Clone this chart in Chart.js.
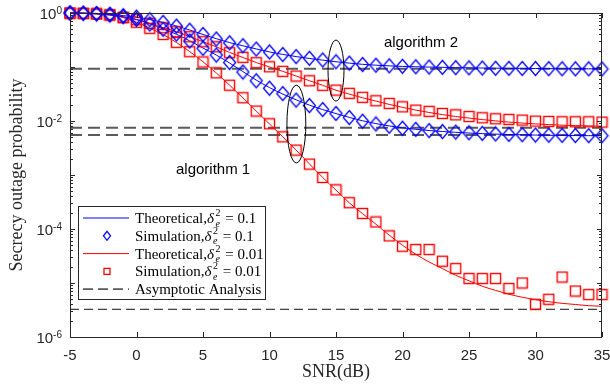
<!DOCTYPE html>
<html lang="en">
<head>
<meta charset="UTF-8" />
<title>Secrecy outage probability vs SNR</title>
<script src="https://cdn.jsdelivr.net/npm/chart.js"></script>
<style>
  html, body { margin: 0; padding: 0; background: #fff; }
  #wrap { width: 610px; height: 385px; position: relative; }
</style>
</head>
<body>
<div id="wrap"><canvas id="soChart"></canvas></div>
<script>
// SNR grid (dB), one point per dB
const snr = [-5, -4, -3, -2, -1, 0, 1, 2, 3, 4, 5, 6, 7, 8, 9, 10, 11, 12, 13, 14, 15,
  16, 17, 18, 19, 20, 21, 22, 23, 24, 25, 26, 27, 28, 29, 30, 31, 32, 33, 34, 35];

// algorithm 2, delta_e^2 = 0.1 (blue, top)
const a2BlueTheory = [1.0, 0.995, 0.985, 0.95, 0.895, 0.84, 0.755, 0.67, 0.575, 0.485, 0.40,
  0.335, 0.283, 0.247, 0.216, 0.19, 0.171, 0.156, 0.144, 0.134, 0.125, 0.118, 0.112, 0.108,
  0.105, 0.1025, 0.101, 0.0998, 0.0986, 0.0975, 0.0966, 0.0958, 0.0951, 0.0946, 0.0941,
  0.0937, 0.0933, 0.093, 0.0927, 0.0925, 0.0923];
const a2BlueSim = [1.0, 0.99, 0.98, 0.95, 0.89, 0.84, 0.75, 0.67, 0.57, 0.48, 0.40, 0.33,
  0.28, 0.248, 0.215, 0.19, 0.17, 0.156, 0.145, 0.135, 0.125, 0.118, 0.111, 0.108, 0.105,
  0.103, 0.101, 0.0998, 0.0985, 0.0973, 0.0964, 0.0957, 0.0948, 0.0944, 0.094, 0.0936,
  0.0932, 0.0928, 0.0924, 0.0924, 0.092];

// algorithm 1, delta_e^2 = 0.1 (blue, lower)
const a1BlueTheory = [1.0, 0.99, 0.96, 0.92, 0.855, 0.76, 0.63, 0.505, 0.405, 0.305, 0.2245,
  0.1665, 0.1184, 0.0823, 0.0573, 0.0416, 0.0315, 0.0247, 0.0197, 0.01627, 0.01371, 0.01166,
  0.01009, 0.00895, 0.00811, 0.00748, 0.00702, 0.00667, 0.00639, 0.00617, 0.00599, 0.00584,
  0.00572, 0.00562, 0.00555, 0.00549, 0.00544, 0.00541, 0.00537, 0.00535, 0.00533];
const a1BlueSim = [1.0, 0.987, 0.958, 0.918, 0.854, 0.758, 0.625, 0.499, 0.408, 0.303, 0.222,
  0.1666, 0.121, 0.0806, 0.0555, 0.0405, 0.0322, 0.0244, 0.0193, 0.0163, 0.0138, 0.0116,
  0.0099, 0.0088, 0.008, 0.00735, 0.007, 0.00664, 0.00636, 0.00623, 0.00605, 0.00589,
  0.00575, 0.00565, 0.00557, 0.0055, 0.00546, 0.00543, 0.00538, 0.00536, 0.00534];

// algorithm 2, delta_e^2 = 0.01 (red, upper)
const a2RedTheory = [1.0, 0.99, 0.97, 0.93, 0.835, 0.75, 0.645, 0.535, 0.45, 0.365, 0.294,
  0.236, 0.186, 0.15, 0.121, 0.1, 0.083, 0.068, 0.0558, 0.0458, 0.0372, 0.0315, 0.0269,
  0.0234, 0.0203, 0.0179, 0.0159, 0.0144, 0.01315, 0.0121, 0.01132, 0.01062, 0.01005,
  0.00955, 0.00915, 0.00884, 0.00858, 0.00836, 0.00822, 0.00811, 0.00801];
const a2RedSim = [0.995, 0.985, 0.965, 0.93, 0.83, 0.751, 0.644, 0.534, 0.45, 0.364, 0.294,
  0.237, 0.184, 0.151, 0.12, 0.101, 0.083, 0.068, 0.0556, 0.0457, 0.0374, 0.0325, 0.0274,
  0.0237, 0.0212, 0.0183, 0.0159, 0.0151, 0.0138, 0.013, 0.0121, 0.01146, 0.011, 0.0107,
  0.0104, 0.00996, 0.00984, 0.00967, 0.00967, 0.00967, 0.00955];

// algorithm 1, delta_e^2 = 0.01 (red, steep)
const a1RedTheory = [1.0, 0.99, 0.965, 0.92, 0.825, 0.675, 0.522, 0.398, 0.285, 0.193, 0.125,
  0.0775, 0.046, 0.0268, 0.0153, 0.0088, 0.0051, 0.0029, 0.00161, 0.0009, 0.000525, 0.000305,
  0.000192, 0.000123, 7.7e-5, 5.0e-5, 3.41e-5, 2.45e-5, 1.85e-5, 1.39e-5, 1.1e-5, 8.7e-6,
  7.3e-6, 6.2e-6, 5.45e-6, 4.9e-6, 4.5e-6, 4.2e-6, 4.0e-6, 3.8e-6, 3.7e-6];
const a1RedSim = [0.995, 0.985, 0.96, 0.915, 0.82, 0.673, 0.52, 0.40, 0.286, 0.192, 0.124,
  0.078, 0.046, 0.0269, 0.0153, 0.00887, 0.00509, 0.00289, 0.00159, 0.000901, 0.000531,
  0.000307, 0.000194, 0.000135, 7.45e-5, 4.8e-5, 4.17e-5, 4.17e-5, 2.53e-5, 1.85e-5,
  1.21e-5, 1.21e-5, 1.21e-5, 7.9e-6, 1.0e-5, 4.04e-6, 5.0e-6, 1.29e-5, 7.1e-6, 6.1e-6, 6.1e-6];

// asymptotic floors
const asymptotes = [0.0928, 0.0075, 0.0055, 3.26e-6];

const xTicks = [-5, 0, 5, 10, 15, 20, 25, 30, 35];
const yLabelExps = [0, -2, -4, -6];
const legendNames = ['Theoretical,', 'Simulation,', 'Theoretical,', 'Simulation,', 'Asymptotic Analysis'];
const legendVals = ['0.1', '0.1', '0.01', '0.01', null];

const BLUE = '#0000ff', RED = '#ff0000';
const SANS = '"Liberation Sans", Arial, sans-serif';
const SERIF = '"Liberation Serif", "Times New Roman", serif';

const pts = arr => arr.map((v, i) => ({ x: snr[i], y: v }));

function diamondImg(color) {
  const c = document.createElement('canvas');
  c.width = 15; c.height = 17;
  const g = c.getContext('2d');
  g.strokeStyle = color; g.lineWidth = 1.3;
  g.beginPath();
  g.moveTo(7.5, 1.5); g.lineTo(13.5, 8.5); g.lineTo(7.5, 15.5); g.lineTo(1.5, 8.5);
  g.closePath(); g.stroke();
  return c;
}
function squareImg(color) {
  const c = document.createElement('canvas');
  c.width = 13; c.height = 13;
  const g = c.getContext('2d');
  g.strokeStyle = color; g.lineWidth = 1.4;
  g.strokeRect(1.5, 1.5, 10, 10);
  return c;
}

const theoryLine = (arr, color) => ({
  data: pts(arr), showLine: true, borderColor: color, borderWidth: 1, pointRadius: 0,
  cubicInterpolationMode: 'monotone', order: 2, clip: false
});
const simPoints = (arr, img) => ({
  data: pts(arr), showLine: false, pointStyle: img, pointRadius: 7, order: 1, clip: false
});
const asymLine = (v, i) => ({
  data: [{ x: snr[0], y: v }, { x: snr[snr.length - 1], y: v }],
  showLine: true, pointRadius: 0, order: 3,
  borderColor: i < 3 ? '#5a5a5a' : '#111', borderWidth: i < 3 ? 1.8 : 1,
  borderDash: i < 3 ? [12, 6] : [9, 5]
});

// frame, inward ticks, tick labels, ellipses, notes and legend
const decorPlugin = {
  id: 'decor',
  afterDraw(chart) {
    const { ctx, chartArea: a, scales: { x, y } } = chart;
    ctx.save();
    ctx.strokeStyle = '#262626';
    ctx.lineWidth = 1;
    ctx.strokeRect(a.left + 0.5, a.top + 0.5, a.right - a.left - 1, a.bottom - a.top);
    const seg = (x1, y1, x2, y2) => { ctx.beginPath(); ctx.moveTo(x1, y1); ctx.lineTo(x2, y2); ctx.stroke(); };
    ctx.fillStyle = '#262626';
    ctx.font = '15px ' + SANS;
    ctx.textAlign = 'center';
    ctx.textBaseline = 'alphabetic';
    xTicks.forEach(v => {
      const px = Math.round(x.getPixelForValue(v)) + 0.5;
      seg(px, a.bottom, px, a.bottom - 5);
      seg(px, a.top, px, a.top + 5);
      ctx.fillText(String(v), x.getPixelForValue(v), a.bottom + 23);
    });
    for (let e = -6; e <= 0; e++) {
      for (let m = 1; m <= 9; m++) {
        const v = m * Math.pow(10, e);
        if (v > 1) break;
        const py = Math.round(y.getPixelForValue(v)) + 0.5;
        const len = m === 1 ? 5 : 3;
        seg(a.left, py, a.left + len, py);
        seg(a.right, py, a.right - len, py);
      }
    }
    // y tick labels with superscript exponents
    ctx.textAlign = 'left';
    yLabelExps.forEach(e => {
      const py = y.getPixelForValue(Math.pow(10, e));
      const sup = e === 0 ? '0' : '-' + (-e);
      ctx.font = '10px ' + SANS;
      const sw = ctx.measureText(sup).width;
      ctx.font = '15px ' + SANS;
      const bw = ctx.measureText('10').width;
      const right = a.left - 8;
      ctx.fillText('10', right - sw - bw, py + 5.5);
      ctx.font = '10px ' + SANS;
      ctx.fillText(sup, right - sw, py + 0.5);
    });
    // ellipses grouping the curves
    ctx.strokeStyle = '#000';
    [[12.02, -2.057, 0.71, 0.72], [15.0, -1.066, 0.6, 0.565]].forEach(([cx, cl, hw, hd]) => {
      const px = x.getPixelForValue(cx), py = y.getPixelForValue(Math.pow(10, cl));
      const rx = x.getPixelForValue(cx + hw) - px;
      const ry = y.getPixelForValue(Math.pow(10, cl - hd)) - py;
      ctx.beginPath(); ctx.ellipse(px, py, rx, ry, 0, 0, Math.PI * 2); ctx.stroke();
    });
    ctx.fillStyle = '#000';
    ctx.font = '15px ' + SANS;
    ctx.textBaseline = 'middle';
    ctx.fillText('algorithm 2', x.getPixelForValue(18.6), y.getPixelForValue(0.278));
    ctx.fillText('algorithm 1', x.getPixelForValue(2.97), y.getPixelForValue(0.00123));

    // legend
    const lx = a.left + 8, ly = 206, lw = 187, lh = 93;
    ctx.fillStyle = '#fff';
    ctx.fillRect(lx, ly, lw, lh);
    ctx.strokeStyle = '#262626';
    ctx.strokeRect(lx + 0.5, ly + 0.5, lw, lh);
    legendNames.forEach((name, i) => {
      const ry = ly + 12 + i * 17.8;
      const s0 = lx + 5, s1 = lx + 51, mx = lx + 29;
      ctx.save();
      if (i === 0 || i === 2) {
        ctx.strokeStyle = i === 0 ? BLUE : RED; ctx.lineWidth = 1;
        seg(s0, ry, s1, ry);
      } else if (i === 1) {
        ctx.strokeStyle = BLUE; ctx.lineWidth = 1.3;
        ctx.beginPath(); ctx.moveTo(mx, ry - 4.5); ctx.lineTo(mx + 3.5, ry); ctx.lineTo(mx, ry + 4.5);
        ctx.lineTo(mx - 3.5, ry); ctx.closePath(); ctx.stroke();
      } else if (i === 3) {
        ctx.strokeStyle = RED; ctx.lineWidth = 1.3;
        ctx.strokeRect(mx - 3, ry - 3, 6, 6);
      } else {
        ctx.strokeStyle = '#5a5a5a'; ctx.lineWidth = 1.8; ctx.setLineDash([10, 5]);
        seg(s0, ry, s1, ry);
      }
      ctx.restore();
      ctx.fillStyle = '#000';
      ctx.textAlign = 'left';
      ctx.textBaseline = 'alphabetic';
      let tx = lx + 57;
      const base = ry + 5;
      ctx.font = '15px ' + SERIF;
      ctx.fillText(name, tx, base);
      tx += ctx.measureText(name).width;
      if (legendVals[i]) {
        ctx.font = 'italic 15px ' + SERIF;
        ctx.fillText('\u03b4', tx, base);
        tx += ctx.measureText('\u03b4').width + 1.5;
        ctx.font = '10px ' + SERIF;
        ctx.fillText('2', tx, base - 7);
        ctx.font = 'italic 10px ' + SERIF;
        ctx.fillText('e', tx, base + 3.5);
        tx += 6;
        ctx.font = '15px ' + SERIF;
        ctx.fillText(' = ' + legendVals[i], tx, base);
      }
    });
    ctx.restore();
  }
};

new Chart(document.getElementById('soChart'), {
  type: 'scatter',
  data: {
    datasets: [
      theoryLine(a2BlueTheory, BLUE),
      theoryLine(a1BlueTheory, BLUE),
      theoryLine(a2RedTheory, RED),
      theoryLine(a1RedTheory, RED),
      simPoints(a2BlueSim, diamondImg(BLUE)),
      simPoints(a1BlueSim, diamondImg(BLUE)),
      simPoints(a2RedSim, squareImg(RED)),
      simPoints(a1RedSim, squareImg(RED)),
      ...asymptotes.map(asymLine)
    ]
  },
  options: {
    responsive: true,
    maintainAspectRatio: false,
    animation: false,
    layout: { padding: { top: 13, right: 8, left: 0, bottom: 0 } },
    plugins: { legend: { display: false }, tooltip: { enabled: false } },
    scales: {
      x: {
        type: 'linear', min: -5, max: 35,
        afterFit: s => { s.height = 48; },
        grid: { display: false, drawTicks: false },
        border: { display: false },
        ticks: { display: false, stepSize: 5 },
        title: { display: true, text: 'SNR(dB)', color: '#262626', font: { family: SERIF, size: 18 }, padding: { top: 0, bottom: 2 } }
      },
      y: {
        type: 'logarithmic', min: 1e-6, max: 1,
        afterFit: s => { s.width = 70; },
        grid: { display: false, drawTicks: false },
        border: { display: false },
        ticks: { display: false },
        title: { display: true, text: 'Secrecy outage probability', color: '#262626', font: { family: SERIF, size: 18 }, padding: { top: 6, bottom: 0 } }
      }
    }
  },
  plugins: [decorPlugin]
});
</script>
</body>
</html>
